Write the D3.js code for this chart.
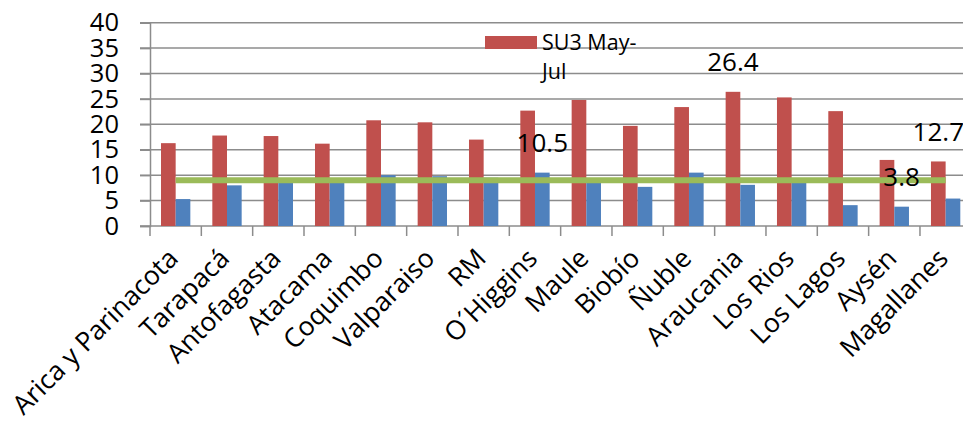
<!DOCTYPE html>
<html>
<head>
<meta charset="utf-8">
<script src="https://cdn.jsdelivr.net/npm/d3@7"></script>
<style>
  body { margin: 0; background: #fff; overflow: hidden; }
  text { font-family: "Open Sans", sans-serif; fill: #000; }
</style>
</head>
<body>
<div class="chart"></div>
<script>
const width = 963;
const height = 432;

// regions, left to right
const regions = ["Arica y Parinacota", "Tarapacá", "Antofagasta", "Atacama", "Coquimbo",
  "Valparaiso", "RM", "O´Higgins", "Maule", "Biobío", "Ñuble", "Araucania",
  "Los Rios", "Los Lagos", "Aysén", "Magallanes"];

// red series (SU3 May-Jul)
const su3 = [16.3, 17.8, 17.7, 16.2, 20.8, 20.4, 17.0, 22.7, 24.8, 19.7, 23.4, 26.4,
  25.3, 22.6, 13.0, 12.7];
// blue series
const second = [5.3, 8.0, 9.0, 8.9, 10.0, 9.8, 9.5, 10.5, 8.8, 7.7, 10.5, 8.1,
  8.8, 4.1, 3.8, 5.4];
// green reference line
const refValue = 9.0;

const yTicks = [0, 5, 10, 15, 20, 25, 30, 35, 40];

// data labels that appear on the picture: [region index, series]
const labelIdx = [7, 11, 14, 15];
const labelSeries = ["blue", "red", "blue", "red"];

const legendLines = ["SU3 May-", "Jul"];

const colors = {red: "#c0504d", blue: "#4f81bd", green: "#9bbb59", grid: "#8c8c8c"};

const svg = d3.select('.chart')
  .append('svg')
  .attr('width', width)
  .attr('height', height);

// plot runs past the right edge like the original screenshot
const x = d3.scaleBand()
  .domain(regions)
  .range([150, 971.3])
  .padding(0);

const xs = d3.scaleBand()
  .domain(["red", "blue"])
  .range([0, x.bandwidth()])
  .paddingInner(0)
  .paddingOuter(0.75);

const y = d3.scaleLinear()
  .domain([0, 40])
  .range([226, 22.7]);

// gridlines
svg.append('g')
  .selectAll('line')
  .data(yTicks.filter(d => d > 0))
  .join('line')
  .attr('x1', 140).attr('x2', 971)
  .attr('y1', d => y(d)).attr('y2', d => y(d))
  .attr('stroke', colors.grid)
  .attr('stroke-width', 1.5);

// y axis
const yAxis = d3.axisLeft(y)
  .tickValues(yTicks)
  .tickSize(10)
  .tickPadding(21);

const gy = svg.append('g')
  .attr('transform', 'translate(150,0)')
  .call(yAxis);
gy.select('.domain').attr('stroke', colors.grid).attr('stroke-width', 1.5);
gy.selectAll('.tick line').attr('stroke', colors.grid).attr('stroke-width', 1.5);
gy.selectAll('.tick text')
  .attr('font-size', 25.5)
  .attr('font-family', '"Open Sans", sans-serif')
  .attr('fill', '#000');

// x axis with ticks at band edges
svg.append('line')
  .attr('x1', 140).attr('x2', 971)
  .attr('y1', y(0)).attr('y2', y(0))
  .attr('stroke', colors.grid).attr('stroke-width', 1.5);

svg.append('g')
  .selectAll('line')
  .data(regions)
  .join('line')
  .attr('x1', d => x(d)).attr('x2', d => x(d))
  .attr('y1', y(0)).attr('y2', y(0) + 10)
  .attr('stroke', colors.grid).attr('stroke-width', 1.5);

// bars
const groups = svg.append('g')
  .selectAll('g')
  .data(regions.map((r, i) => ({r, red: su3[i], blue: second[i]})))
  .join('g')
  .attr('transform', d => `translate(${x(d.r)},0)`);

groups.selectAll('rect')
  .data(d => ["red", "blue"].map(k => ({k, v: d[k]})))
  .join('rect')
  .attr('x', d => xs(d.k))
  .attr('width', xs.bandwidth())
  .attr('y', d => y(d.v))
  .attr('height', d => y(0) - y(d.v))
  .attr('fill', d => colors[d.k]);

// green reference line
svg.append('line')
  .attr('x1', x(regions[0]) + x.bandwidth() / 2)
  .attr('x2', x(regions[regions.length - 1]) + x.bandwidth() / 2)
  .attr('y1', y(refValue)).attr('y2', y(refValue))
  .attr('stroke', colors.green)
  .attr('stroke-width', 6);

// data labels
svg.append('g')
  .selectAll('text')
  .data(labelIdx.map((i, j) => ({i, s: labelSeries[j]})))
  .join('text')
  .attr('x', d => x(regions[d.i]) + xs(d.s) + xs.bandwidth() / 2)
  .attr('y', d => y(d.s === "red" ? su3[d.i] : second[d.i]) - 20.5)
  .attr('text-anchor', 'middle')
  .attr('font-size', 26)
  .text(d => (d.s === "red" ? su3[d.i] : second[d.i]).toFixed(1));

// category labels
svg.append('g')
  .selectAll('text')
  .data(regions)
  .join('text')
  .attr('transform', d => `translate(${x(d) + x.bandwidth() / 2 + 4},260) rotate(-45)`)
  .attr('text-anchor', 'end')
  .attr('font-size', 26.5)
  .text(d => d);

// legend
svg.append('rect')
  .attr('x', 485).attr('y', 36)
  .attr('width', 52).attr('height', 13)
  .attr('fill', colors.red);

svg.append('g')
  .selectAll('text')
  .data(legendLines)
  .join('text')
  .attr('x', 542)
  .attr('y', (d, i) => 50 + i * 29)
  .attr('font-size', 21.5)
  .text(d => d);
</script>
</body>
</html>
